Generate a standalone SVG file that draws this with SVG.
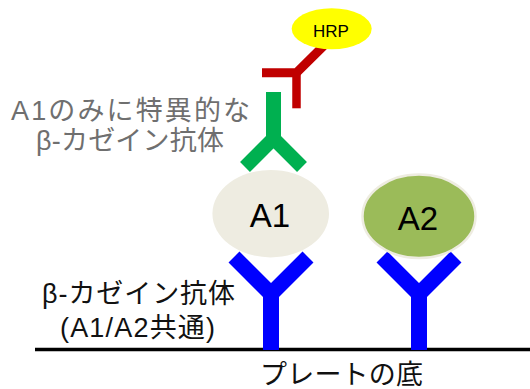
<svg xmlns="http://www.w3.org/2000/svg" width="530" height="389" viewBox="0 0 530 389">
  <style>
    .lbl { font-family: "Liberation Sans", "Noto Sans CJK JP", sans-serif; font-size: 27px; }
    .gray { fill: #6f6f6f; }
    .dark { fill: #111111; }
    .ag { font-family: "Liberation Sans", "Noto Sans CJK JP", sans-serif; font-size: 33px; fill: #000; text-anchor: middle; }
    .arm { fill: none; stroke-linejoin: miter; stroke-linecap: butt; }
    .capture { stroke: #0000ff; }
  </style>
  <rect width="530" height="389" fill="#ffffff"/>

  <!-- plate surface -->
  <g id="plate">
    <line x1="35" y1="349.5" x2="530" y2="349.5" stroke="#000" stroke-width="3.5"/>
    <text class="lbl dark" x="260" y="384" textLength="163" lengthAdjust="spacing">プレートの底</text>
  </g>

  <!-- capture antibodies fixed on the plate -->
  <g id="capture-antibody-1">
    <polyline class="arm capture" points="234,257 271,294 308,257" stroke-width="15.5"/>
    <rect x="263" y="288" width="16" height="62" fill="#0000ff"/>
  </g>
  <g id="capture-antibody-2">
    <polyline class="arm capture" points="382,257 419,294 456,257" stroke-width="15.5"/>
    <rect x="411" y="288" width="16" height="62" fill="#0000ff"/>
  </g>

  <!-- antigens -->
  <g id="antigen-a1">
    <ellipse cx="270.7" cy="213.7" rx="58.3" ry="43.7" fill="#eeece1"/>
    <text class="ag" x="270" y="227">A1</text>
  </g>
  <g id="antigen-a2">
    <ellipse cx="419" cy="216.3" rx="56.5" ry="41.8" fill="#9bbb59" stroke="#eeece1" stroke-width="2.5"/>
    <text class="ag" x="418" y="230">A2</text>
  </g>

  <!-- A1-specific detection antibody -->
  <g id="detection-antibody">
    <rect x="266" y="92" width="15" height="52" fill="#00b050"/>
    <polyline class="arm" points="245,167 273.5,138.5 302,167" stroke="#00b050" stroke-width="14"/>
  </g>

  <!-- HRP-labelled secondary antibody -->
  <g id="secondary-antibody">
    <path class="arm" d="M262,72.8 H296.5 L323.5,46" stroke="#c00000" stroke-width="9"/>
    <line x1="296.5" y1="70" x2="296.5" y2="108.3" stroke="#c00000" stroke-width="8.5"/>
  </g>
  <g id="hrp">
    <ellipse cx="331.7" cy="28.8" rx="40" ry="20.5" fill="#ffff00"/>
    <text x="331" y="36.7" font-family="Liberation Sans, sans-serif" font-size="17" text-anchor="middle" fill="#000">HRP</text>
  </g>

  <!-- labels -->
  <g id="label-detection">
    <text class="lbl gray" x="11" y="120" textLength="239" lengthAdjust="spacing">A1のみに特異的な</text>
    <text class="lbl gray" x="36" y="150" textLength="188" lengthAdjust="spacing">β-カゼイン抗体</text>
  </g>
  <g id="label-capture">
    <text class="lbl dark" x="42" y="303" textLength="193" lengthAdjust="spacing">β-カゼイン抗体</text>
    <text class="lbl dark" x="60" y="337" textLength="155" lengthAdjust="spacing">(A1/A2共通)</text>
  </g>
</svg>
